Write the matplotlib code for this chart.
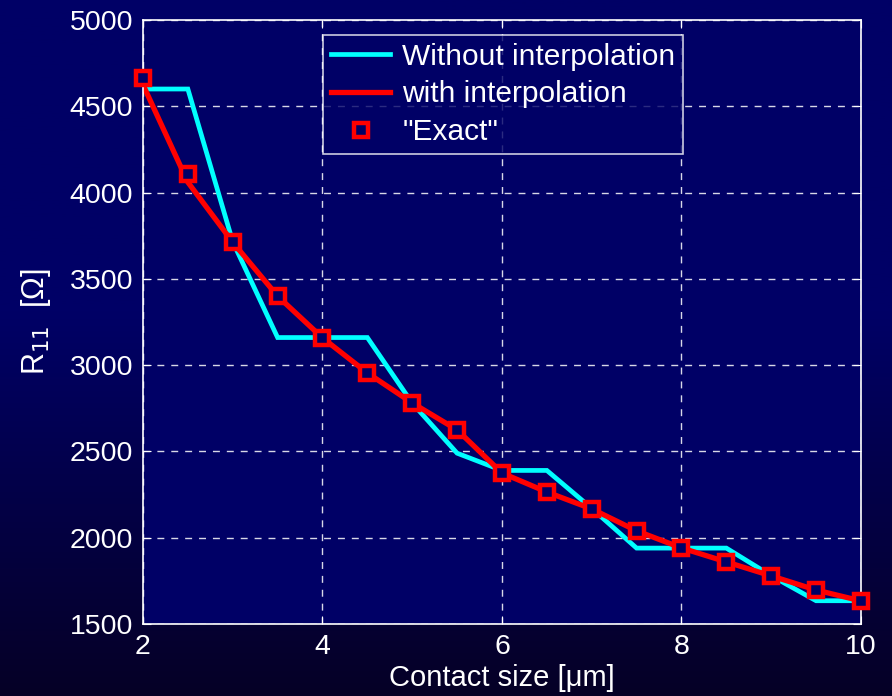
import matplotlib
matplotlib.use("Agg")
import matplotlib.pyplot as plt
import numpy as np

plt.rcParams['font.family'] = ['Liberation Sans', 'DejaVu Sans']

# contact size in um
size = [2, 2.5, 3, 3.5, 4, 4.5, 5, 5.5, 6, 6.5, 7, 7.5, 8, 8.5, 9, 9.5, 10]
# resistance R11 in Ohm
r_without = [4600, 4600, 3715, 3160, 3160, 3160, 2780, 2490, 2390, 2390,
             2170, 1940, 1940, 1940, 1780, 1635, 1635]
r_with = [4625, 4060, 3712, 3400, 3158, 2955, 2781, 2625, 2375, 2265,
          2167, 2040, 1941, 1860, 1779, 1697, 1634]
r_exact = [4664, 4108, 3714, 3401, 3158, 2955, 2781, 2625, 2375, 2265,
           2167, 2040, 1941, 1860, 1779, 1697, 1634]

navy = '#000066'

fig = plt.figure(figsize=(8.92, 6.96), dpi=100)

# background gradient, navy at the top fading to near black at the bottom
bg = fig.add_axes([0, 0, 1, 1], zorder=-10)
g = np.linspace(0, 1, 256)
t = np.clip((g - 0.45) / 0.55, 0, 1)
top = np.array([0, 0, 102]) / 255
bot = np.array([6, 0, 38]) / 255
img = (top[None, :] * (1 - t[:, None]) + bot[None, :] * t[:, None])[:, None, :]
bg.imshow(img, aspect='auto', extent=[0, 1, 0, 1])
bg.axis('off')

ax = fig.add_axes([0.1603, 0.1034, 0.8049, 0.8679])
ax.set_facecolor(navy)

ax.plot(size, r_without, color='#00ffff', lw=3.4, label='Without interpolation',
        solid_joinstyle='miter')
ax.plot(size, r_with, color='#ff0000', lw=3.8, label='with interpolation')
ax.plot(size, r_exact, ls='none', marker='s', ms=10, mfc=navy, mec='#ff0000',
        mew=3.2, label='"Exact"', clip_on=False, zorder=5)

ax.set_xlim(2, 10)
ax.set_ylim(1500, 5000)
ax.set_xticks([2, 4, 6, 8, 10])
ax.set_yticks(np.arange(1500, 5001, 500))

ax.grid(True, color='white', ls=(0, (5, 5)), lw=1, alpha=0.85)
for s in ax.spines.values():
    s.set_color('white')
    s.set_linewidth(1.2)
ax.tick_params(colors='white', direction='in', top=True, right=True,
               length=6, labelsize=20.5, pad=7)

ax.set_xlabel('Contact size [\u03bcm]', color='white', fontsize=21, labelpad=3)
ax.set_ylabel('R$_{11}$  [\u03a9]', color='white', fontsize=22, labelpad=12)

leg = ax.legend(loc='upper left', bbox_to_anchor=(0.251, 0.975), fontsize=21.5,
                frameon=True, fancybox=False, facecolor=navy, edgecolor='white',
                labelcolor='white', handlelength=2.0, handletextpad=0.4,
                borderpad=0.25, labelspacing=0.33, borderaxespad=0)
leg.get_frame().set_linewidth(1.2)

fig.savefig('out.png', dpi=100, facecolor=fig.get_facecolor())
